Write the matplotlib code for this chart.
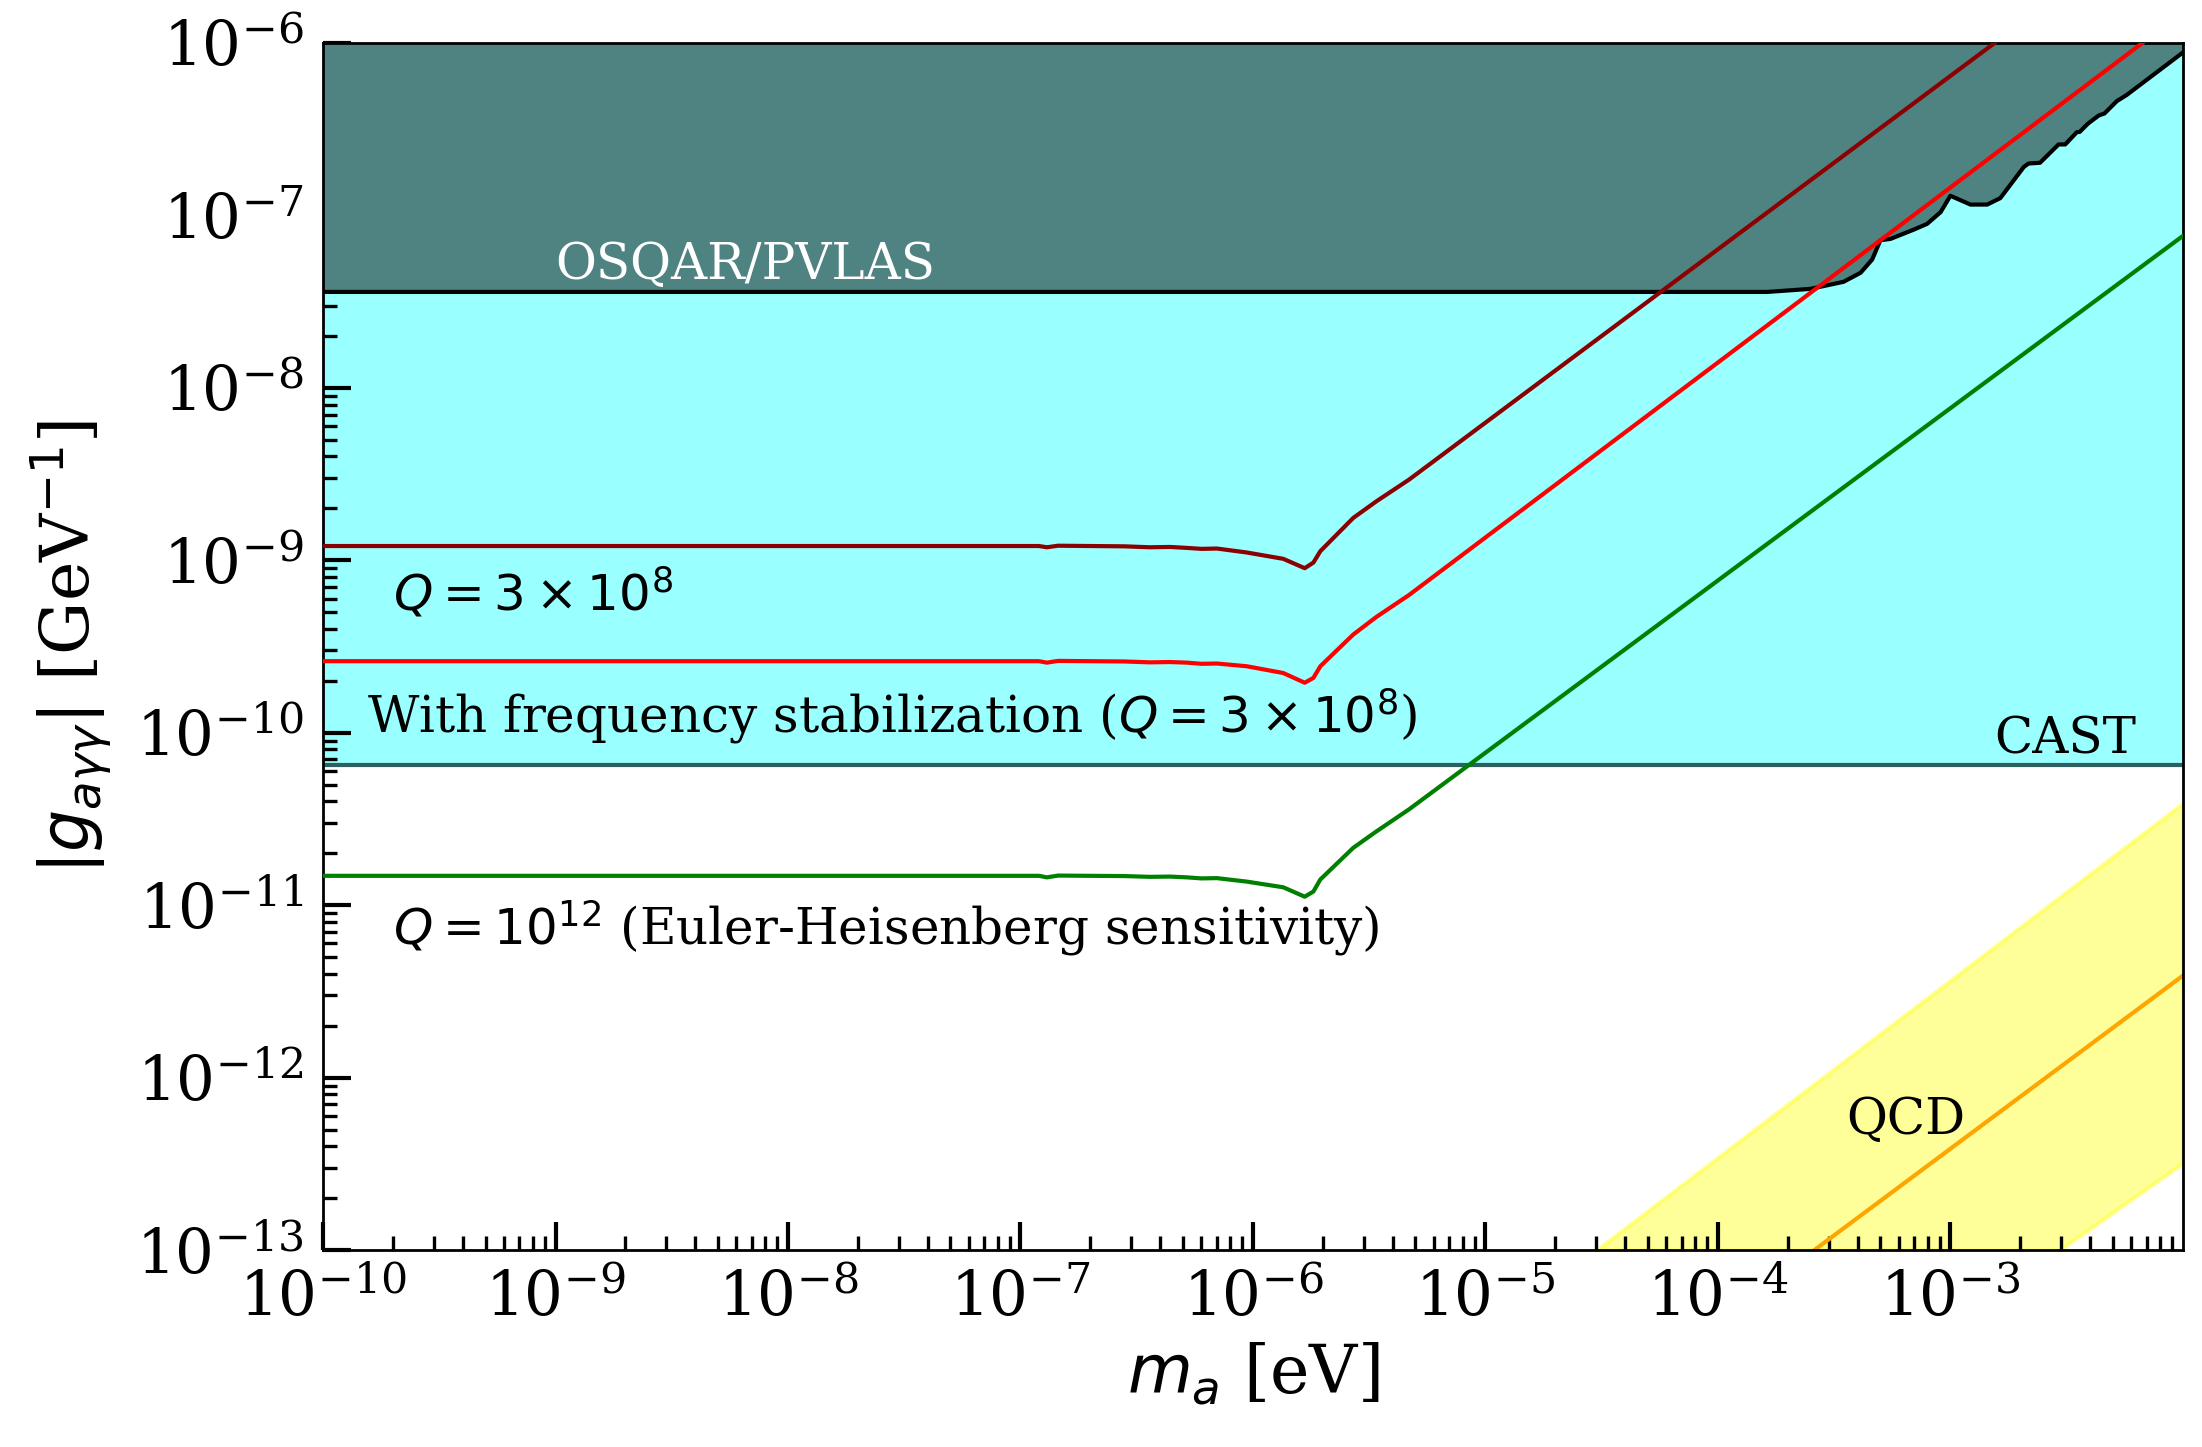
import numpy as np
import matplotlib
matplotlib.use("Agg")
import matplotlib.pyplot as plt

plt.rcParams["font.family"] = "serif"
plt.rcParams["font.serif"] = ["DejaVu Serif"]
plt.rcParams["mathtext.fontset"] = "dejavusans"

# axion mass grid (eV) for the sensitivity curves
m_curve = [1e-10, 1.2e-7, 1.3e-7, 1.45e-7, 2.0e-7, 2.8e-7, 3.6e-7, 4.4e-7, 5.2e-7, 6.0e-7,
           7.0e-7, 9.4e-7, 1.35e-6, 1.67e-6, 1.82e-6, 1.95e-6, 2.7e-6, 3.4e-6, 4.7e-6]
g_q3e8 = [1.21e-9, 1.21e-9, 1.19e-9, 1.215e-9, 1.21e-9, 1.205e-9, 1.19e-9, 1.195e-9,
          1.18e-9, 1.165e-9, 1.17e-9, 1.11e-9, 1.02e-9, 9.0e-10, 9.7e-10, 1.13e-9,
          1.76e-9, 2.2e-9, 2.94e-9]
g_stab = [2.60e-10, 2.60e-10, 2.55e-10, 2.61e-10, 2.60e-10, 2.59e-10, 2.56e-10, 2.57e-10,
          2.55e-10, 2.51e-10, 2.52e-10, 2.43e-10, 2.22e-10, 1.95e-10, 2.08e-10, 2.43e-10,
          3.71e-10, 4.7e-10, 6.3e-10]
g_q1e12 = [1.48e-11, 1.48e-11, 1.45e-11, 1.485e-11, 1.48e-11, 1.475e-11, 1.46e-11, 1.465e-11,
           1.45e-11, 1.43e-11, 1.435e-11, 1.37e-11, 1.27e-11, 1.12e-11, 1.20e-11, 1.41e-11,
           2.15e-11, 2.68e-11, 3.6e-11]
# straight high-mass ends of the three curves
m_end = [1.55e-3, 6.7e-3, 1e-2]
g_end = [1e-6, 1e-6, 7.6e-8]

# OSQAR/PVLAS exclusion
m_osqar = [1e-10, 8.4e-5, 1.63e-4, 2.5e-4, 3.47e-4, 4.11e-4, 4.61e-4, 5.0e-4, 5.53e-4,
           6.97e-4, 7.94e-4, 9.08e-4, 1.0e-3, 1.22e-3, 1.44e-3, 1.64e-3, 2.07e-3, 2.17e-3,
           2.43e-3, 2.92e-3, 3.12e-3, 3.50e-3, 3.60e-3, 3.9e-3, 4.35e-3, 4.6e-3, 5.2e-3,
           5.74e-3, 1e-2]
g_osqar = [3.6e-8, 3.6e-8, 3.6e-8, 3.75e-8, 4.12e-8, 4.65e-8, 5.55e-8, 7.18e-8, 7.31e-8,
           8.28e-8, 8.93e-8, 1.045e-7, 1.30e-7, 1.156e-7, 1.156e-7, 1.26e-7, 1.91e-7, 2.0e-7,
           2.02e-7, 2.58e-7, 2.58e-7, 3.04e-7, 3.05e-7, 3.4e-7, 3.8e-7, 3.9e-7, 4.6e-7,
           5.0e-7, 8.8e-7]

g_cast = 6.5e-11

# QCD band edges and KSVZ line
m_qcd_hi = [3.0e-5, 1e-2]
g_qcd_hi = [1e-13, 3.9e-11]
m_qcd_lo = [2.95e-3, 1e-2]
g_qcd_lo = [1e-13, 3.2e-13]
m_ksvz = [2.6e-4, 1e-2]
g_ksvz = [1e-13, 3.9e-12]

fig = plt.figure(figsize=(11.01, 7.235), dpi=200)
ax = fig.add_axes([0.1467, 0.1361, 0.8446, 0.8342])
ax.set_xscale("log")
ax.set_yscale("log")
ax.set_xlim(1e-10, 1e-2)
ax.set_ylim(1e-13, 1e-6)

# CAST region
ax.fill_between([1e-10, 1e-2], [g_cast, g_cast], [1e-6, 1e-6], color="#99ffff", lw=0, zorder=1)
ax.axhline(g_cast, color="#2f5f5f", lw=1.5, zorder=2)

# OSQAR/PVLAS region
ax.fill_between(m_osqar, g_osqar, 1e-6, color="#4e8382", lw=0, zorder=2)
ax.plot(m_osqar, g_osqar, color="black", lw=1.5, zorder=3)

# QCD band
m_band = np.logspace(np.log10(m_qcd_hi[0]), -2, 200)
hi = np.interp(np.log10(m_band), np.log10(m_qcd_hi), np.log10(g_qcd_hi))
lo = np.interp(np.log10(m_band), np.log10(m_qcd_lo), np.log10(g_qcd_lo), left=-13)
ax.fill_between(m_band, 10 ** lo, 10 ** hi, color="yellow", alpha=0.4, lw=1.5, zorder=1)
ax.plot(m_ksvz, g_ksvz, color="orange", lw=1.5, zorder=2)

# sensitivity curves
ax.plot(m_curve + [m_end[0]], g_q3e8 + [g_end[0]], color="darkred", lw=1.5, zorder=4)
ax.plot(m_curve + [m_end[1]], g_stab + [g_end[1]], color="red", lw=1.5, zorder=4)
ax.plot(m_curve + [m_end[2]], g_q1e12 + [g_end[2]], color="green", lw=1.5, zorder=4)

fs = 18
ax.text(1.0e-9, 4.3e-8, "OSQAR/PVLAS", color="white", fontsize=fs, va="baseline")
ax.text(2.0e-10, 5.1e-10, r"$Q = 3 \times 10^{8}$", fontsize=fs, va="baseline")
ax.text(1.55e-10, 1.0e-10, r"With frequency stabilization ($Q = 3 \times 10^{8}$)",
        fontsize=fs, va="baseline")
ax.text(2.0e-10, 5.9e-12, r"$Q = 10^{12}$ (Euler-Heisenberg sensitivity)",
        fontsize=fs, va="baseline")
ax.text(1.55e-3, 7.6e-11, "CAST", fontsize=fs, va="baseline")
ax.text(3.57e-4, 4.7e-13, "QCD", fontsize=fs, va="baseline")

ax.set_xlabel(r"$m_a$ [eV]", fontsize=24, labelpad=4)
ax.set_ylabel(r"$|g_{a\gamma\gamma}|$ [GeV$^{-1}$]", fontsize=24, labelpad=8)

ax.set_xticks([10.0 ** k for k in range(-10, -2)])
ax.tick_params(which="both", direction="in", top=False, right=False)
ax.tick_params(which="major", length=10, width=1.5, labelsize=22, pad=7)
ax.tick_params(which="minor", length=5, width=1.2)
for s in ax.spines.values():
    s.set_linewidth(1.0)

fig.savefig("out.png", dpi=200)
